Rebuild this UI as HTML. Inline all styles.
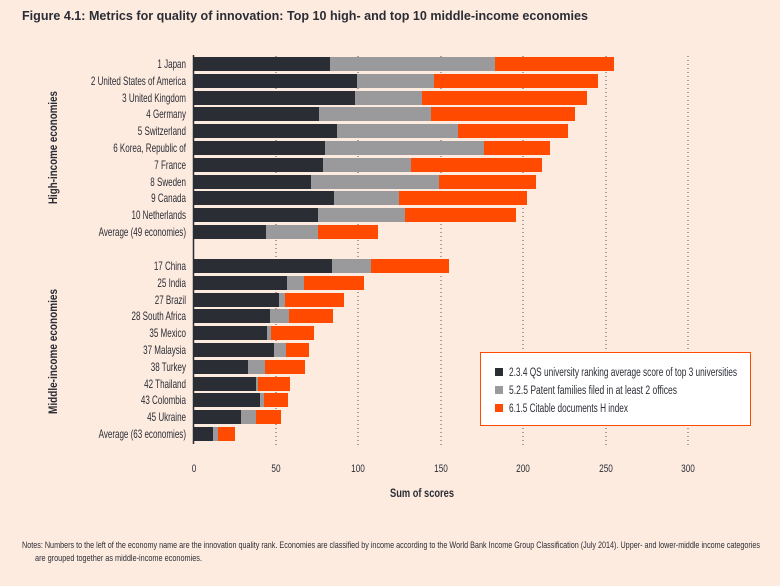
<!DOCTYPE html>
<html><head><meta charset="utf-8"><style>
html,body{margin:0;padding:0;background:#fdebe0;}
svg{display:block;font-family:"Liberation Sans",sans-serif;}
</style></head><body>
<svg width="780" height="586" viewBox="0 0 780 586" xmlns="http://www.w3.org/2000/svg">
<rect width="780" height="586" fill="#fdebe0"/>
<text x="22" y="20" font-size="13" font-weight="bold" fill="#2b2d35" textLength="566" lengthAdjust="spacingAndGlyphs">Figure 4.1: Metrics for quality of innovation: Top 10 high- and top 10 middle-income economies</text>
<g stroke="#555" stroke-width="1" stroke-dasharray="1,3">
<line x1="276" y1="56" x2="276" y2="446"/><line x1="358" y1="56" x2="358" y2="446"/><line x1="441" y1="56" x2="441" y2="446"/><line x1="523" y1="56" x2="523" y2="446"/><line x1="606" y1="56" x2="606" y2="446"/><line x1="688" y1="56" x2="688" y2="446"/>
</g>
<g id="bars"></g>
<line x1="193.5" y1="55" x2="193.5" y2="444" stroke="#2b2d35" stroke-width="1.5"/>
<g font-size="11.5" fill="#2b2d35" text-anchor="end" id="labels"></g>
<g font-size="11" fill="#2b2d35" text-anchor="middle">
<text transform="translate(194,472) scale(0.75,1)">0</text><text transform="translate(276,472) scale(0.75,1)">50</text><text transform="translate(358,472) scale(0.75,1)">100</text><text transform="translate(441,472) scale(0.75,1)">150</text><text transform="translate(523,472) scale(0.75,1)">200</text><text transform="translate(606,472) scale(0.75,1)">250</text><text transform="translate(688,472) scale(0.75,1)">300</text>
</g>
<text x="390" y="497" font-weight="bold" font-size="12" fill="#2b2d35" textLength="64" lengthAdjust="spacingAndGlyphs">Sum of scores</text>
<text transform="translate(57,204) rotate(-90)" font-size="12" font-weight="bold" fill="#2b2d35" textLength="113" lengthAdjust="spacingAndGlyphs">High-income economies</text>
<text transform="translate(57,414) rotate(-90)" font-size="12" font-weight="bold" fill="#2b2d35" textLength="125" lengthAdjust="spacingAndGlyphs">Middle-income economies</text>
<rect x="480.5" y="352.5" width="270" height="73" fill="#fff" stroke="#ff4a00" stroke-width="1"/>
<rect x="495" y="368" width="8" height="8" fill="#2b2d35"/><rect x="495" y="386" width="8" height="8" fill="#9a9a9c"/><rect x="495" y="404" width="8" height="8" fill="#ff4a00"/>
<g font-size="11.5" fill="#2b2d35"><text x="509" y="376" textLength="228" lengthAdjust="spacingAndGlyphs">2.3.4 QS university ranking average score of top 3 universities</text><text x="509" y="394" textLength="168" lengthAdjust="spacingAndGlyphs">5.2.5 Patent families filed in at least 2 offices</text><text x="509" y="412" textLength="119" lengthAdjust="spacingAndGlyphs">6.1.5 Citable documents H index</text></g>
<g font-size="9.5" fill="#2b2d35"><text x="22" y="548" textLength="738" lengthAdjust="spacingAndGlyphs">Notes: Numbers to the left of the economy name are the innovation quality rank. Economies are classified by income according to the World Bank Income Group Classification (July 2014). Upper- and lower-middle income categories</text><text x="35" y="561" textLength="167" lengthAdjust="spacingAndGlyphs">are grouped together as middle-income economies.</text></g>
<script>
var d=[["1 Japan",64,330,495,614],["2 United States of America",81,357,434,598],["3 United Kingdom",98,355,422,587],["4 Germany",114,319,431,575],["5 Switzerland",131,337,458,568],["6 Korea, Republic of",148,325,484,550],["7 France",165,323,411,542],["8 Sweden",182,311,439,536],["9 Canada",198,334,399,527],["10 Netherlands",215,318,405,516],["Average (49 economies)",232,266,318,378],
["17 China",266,332,371,449],["25 India",283,287,304,364],["27 Brazil",300,279,285,344],["28 South Africa",316,270,289,333],["35 Mexico",333,267,271,314],["37 Malaysia",350,274,286,309],["38 Turkey",367,248,265,305],["42 Thailand",384,256,258,290],["43 Colombia",400,260,264,288],["45 Ukraine",417,241,256,281],["Average (63 economies)",434,213,218,235]];
var ns="http://www.w3.org/2000/svg",b=document.getElementById("bars"),l=document.getElementById("labels");
d.forEach(function(r){var y=r[1]-7,xs=[194,r[2],r[3],r[4]],c=["#2b2d35","#9a9a9c","#ff4a00"];
for(var i=0;i<3;i++){var e=document.createElementNS(ns,"rect");e.setAttribute("x",xs[i]);e.setAttribute("y",y);e.setAttribute("width",xs[i+1]-xs[i]);e.setAttribute("height",14);e.setAttribute("fill",c[i]);b.appendChild(e);}
var t=document.createElementNS(ns,"text");t.setAttribute("transform","translate(186,"+(r[1]+4)+") scale(0.7,1)");t.textContent=r[0];l.appendChild(t);});
</script>
</svg>
</body></html>
